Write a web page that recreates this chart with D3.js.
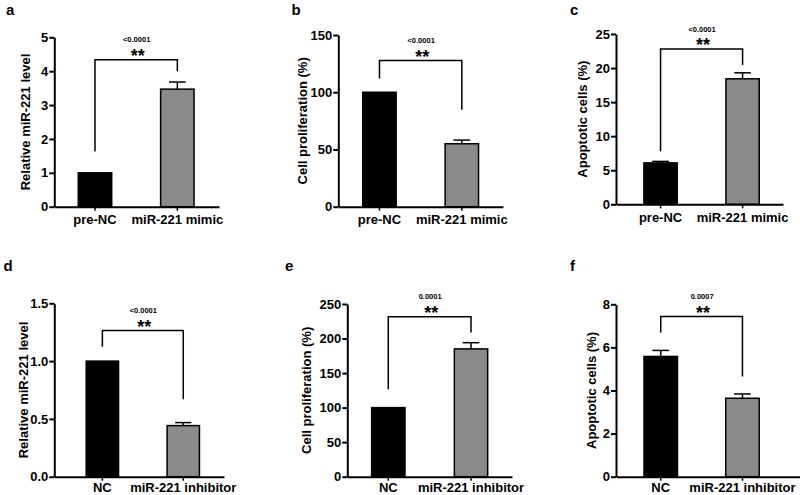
<!DOCTYPE html>
<html>
<head>
<meta charset="utf-8">
<script src="https://cdn.jsdelivr.net/npm/d3@7"></script>
<style>
  html, body { margin: 0; padding: 0; background: #fff; }
  svg { display: block; font-family: "Liberation Sans", Arial, Helvetica, sans-serif; }
</style>
</head>
<body>
<svg id="chart" width="800" height="495"></svg>
<script>
// ---------- data ----------
const panelLetters = ["a", "b", "c", "d", "e", "f"];
const categoriesTop = ["pre-NC", "miR-221 mimic"];
const categoriesBottom = ["NC", "miR-221 inhibitor"];
const yTitles = ["Relative miR-221 level", "Cell proliferation (%)", "Apoptotic cells (%)",
                 "Relative miR-221 level", "Cell proliferation (%)", "Apoptotic cells (%)"];
const yMax = [5, 150, 25, 1.5, 250, 8];
const yTickValues = [
  [0, 1, 2, 3, 4, 5],
  [0, 50, 100, 150],
  [0, 5, 10, 15, 20, 25],
  [0, 0.5, 1.0, 1.5],
  [0, 50, 100, 150, 200, 250],
  [0, 2, 4, 6, 8]
];
const yTickFormats = ["d", "d", "d", ".1f", "d", "d"];
const meanValues = [
  [1.0, 3.47],
  [100, 55],
  [6.08, 18.42],
  [1.0, 0.442],
  [100, 185],
  [5.58, 3.64]
];
const errValues = [
  [0, 0.21],
  [0, 3.2],
  [0.22, 0.88],
  [0, 0.026],
  [0, 9],
  [0.28, 0.2]
];
const bracketTop = [4.34, 127.7, 22.79, 1.264, 231.7, 7.43];
const bracketLeftEnd = [1.63, 111.9, 7.79, 1.124, 126.5, 6.69];
const bracketRightEnd = [4.0, 84.8, 20.44, 0.669, 208.7, 4.65];
const pLabels = ["<0.0001", "<0.0001", "<0.0001", "<0.0001", "0.0001", "0.0007"];
const sigLabels = ["**", "**", "**", "**", "**", "**"];

// ---------- layout (positions only) ----------
const layout = [
  { x0: 54.3,  x1: 219, yTop: 37.3,  yBot: 206.7, pi: 0.594, po: 0.297, al: 0.49,  titleX: 25,    lx: 6,     ly: 15,    xpad: 4 },
  { x0: 338.3, x1: 503, yTop: 35,    yBot: 206.7, pi: 0.594, po: 0.297, al: 0.5,   titleX: 302,   lx: 291.5, ly: 15,    xpad: 4 },
  { x0: 616,   x1: 783, yTop: 34,    yBot: 204.3, pi: 0.594, po: 0.315, al: 0.54,  titleX: 582.5, lx: 570,   ly: 15,    xpad: 4 },
  { x0: 54.3,  x1: 224, yTop: 303.3, yBot: 476.7, pi: 0.6,   po: 0.349, al: 0.565, titleX: 23.5,  lx: 3.5,   ly: 270.5, xpad: 2 },
  { x0: 347.3, x1: 512, yTop: 304,   yBot: 476.7, pi: 0.597, po: 0.294, al: 0.5,   titleX: 306.5, lx: 285,   ly: 270.5, xpad: 2 },
  { x0: 616,   x1: 800, yTop: 304.3, yBot: 476.7, pi: 0.59,  po: 0.421, al: 0.407, titleX: 591.5, lx: 570,   ly: 270.5, xpad: 2 }
];
const barColors = ["#000000", "#8a8a8a"];

const svg = d3.select("#chart");

panelLetters.forEach((letter, i) => {
  const L = layout[i];
  const cats = i < 3 ? categoriesTop : categoriesBottom;
  const g = svg.append("g");

  const x = d3.scaleBand().domain(cats).range([L.x0, L.x1])
    .paddingInner(L.pi).paddingOuter(L.po).align(L.al);
  const y = d3.scaleLinear().domain([0, yMax[i]]).range([L.yBot, L.yTop]);

  // bars
  const rows = cats.map((c, k) => ({ c, v: meanValues[i][k], e: errValues[i][k], k }));
  g.selectAll("rect.bar").data(rows).enter().append("rect")
    .attr("class", "bar")
    .attr("x", d => x(d.c))
    .attr("width", x.bandwidth())
    .attr("y", d => y(d.v))
    .attr("height", d => y(0) - y(d.v))
    .attr("fill", d => barColors[d.k])
    .attr("stroke", "#000")
    .attr("stroke-width", 1.5);

  // error bars (upper only)
  const errRows = rows.filter(d => d.e > 0);
  const capW = x.bandwidth() * 0.5;
  g.selectAll("line.err").data(errRows).enter().append("line")
    .attr("x1", d => x(d.c) + x.bandwidth() / 2)
    .attr("x2", d => x(d.c) + x.bandwidth() / 2)
    .attr("y1", d => y(d.v))
    .attr("y2", d => y(d.v + d.e))
    .attr("stroke", "#000").attr("stroke-width", 1.5);
  g.selectAll("line.cap").data(errRows).enter().append("line")
    .attr("x1", d => x(d.c) + x.bandwidth() / 2 - capW / 2)
    .attr("x2", d => x(d.c) + x.bandwidth() / 2 + capW / 2)
    .attr("y1", d => y(d.v + d.e))
    .attr("y2", d => y(d.v + d.e))
    .attr("stroke", "#000").attr("stroke-width", 1.5);

  // y axis
  const yAxis = d3.axisLeft(y).tickValues(yTickValues[i])
    .tickFormat(d3.format(yTickFormats[i])).tickSize(5).tickSizeOuter(0).tickPadding(1);
  const ya = g.append("g").attr("transform", `translate(${L.x0},0)`).call(yAxis);
  ya.select(".domain").attr("stroke-width", 2);
  ya.selectAll(".tick line").attr("stroke-width", 2);
  ya.selectAll("text").attr("font-size", 13).attr("font-weight", "bold").attr("fill", "#000")
    .attr("font-family", "Liberation Sans, Arial, sans-serif");

  // x axis
  const xAxis = d3.axisBottom(x).tickSize(4).tickSizeOuter(0).tickPadding(L.xpad);
  const xa = g.append("g").attr("transform", `translate(0,${L.yBot})`).call(xAxis);
  xa.select(".domain").attr("stroke-width", 2);
  xa.selectAll(".tick line").attr("stroke-width", 1.5);
  xa.selectAll("text").attr("font-size", 13).attr("font-weight", "bold").attr("fill", "#000")
    .attr("font-family", "Liberation Sans, Arial, sans-serif");

  // y title
  const yMid = (L.yTop + L.yBot) / 2;
  g.append("text")
    .attr("transform", `translate(${L.titleX},${yMid}) rotate(-90)`)
    .attr("text-anchor", "middle")
    .attr("dominant-baseline", "central")
    .attr("font-size", 13).attr("font-weight", "bold").attr("fill", "#000")
    .text(yTitles[i]);

  // significance bracket
  const cx1 = x(cats[0]) + x.bandwidth() / 2;
  const cx2 = x(cats[1]) + x.bandwidth() / 2;
  const bt = y(bracketTop[i]);
  g.append("path")
    .attr("d", `M${cx1},${y(bracketLeftEnd[i])}V${bt}H${cx2}V${y(bracketRightEnd[i])}`)
    .attr("fill", "none").attr("stroke", "#000").attr("stroke-width", 1.5);
  const cm = (cx1 + cx2) / 2;
  g.append("text").attr("x", cm + 1.5).attr("y", bt + 2)
    .attr("text-anchor", "middle").attr("font-size", 18).attr("font-weight", "bold").attr("fill", "#000")
    .text(sigLabels[i]);
  g.append("text").attr("x", cm + 0.5).attr("y", bt - 17.5)
    .attr("text-anchor", "middle").attr("font-size", 7.5).attr("font-weight", "bold").attr("fill", "#000")
    .text(pLabels[i]);

  // panel letter
  g.append("text").attr("x", L.lx).attr("y", L.ly)
    .attr("font-size", 15).attr("font-weight", "bold").attr("fill", "#000")
    .text(letter);
});
</script>
</body>
</html>
